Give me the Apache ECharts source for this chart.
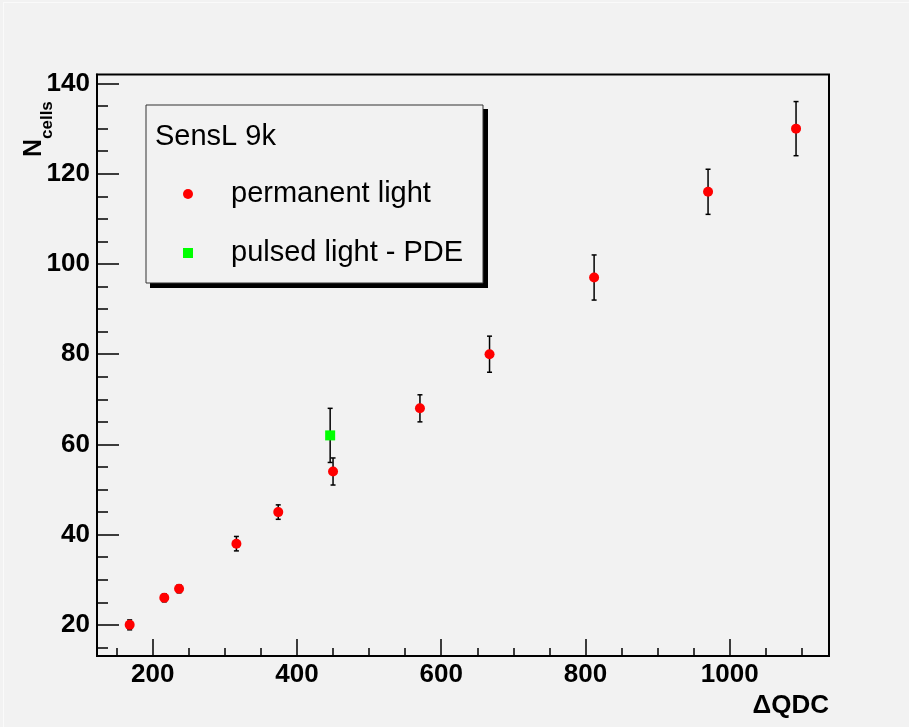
<!DOCTYPE html>
<html>
<head>
<meta charset="utf-8">
<script src="https://cdn.jsdelivr.net/npm/echarts@6/dist/echarts.min.js"></script>
<style>
html,body{margin:0;padding:0;background:#f2f2f2;}
#chart{width:909px;height:727px;}
</style>
</head>
<body>
<div id="chart"></div>
<script>
// ---- data ----
const permX   = [168, 216, 236.5, 316, 374, 450, 570.5, 667, 812, 970, 1092];
const permY   = [20, 26, 28, 38, 45, 54, 68, 80, 97, 116, 130];
const permErr = [1.1, 0.9, 0.9, 1.6, 1.6, 3, 3, 4, 5, 5, 6];

const pulsedX   = [446];
const pulsedY   = [62];
const pulsedErr = [6];

const xMajorTicks = [200, 400, 600, 800, 1000];
const xMinorTicks = [150, 250, 300, 350, 450, 500, 550, 650, 700, 750, 850, 900, 950, 1050, 1100];
const yMajorTicks = [20, 40, 60, 80, 100, 120, 140];
const yMinorTicks = [15, 25, 30, 35, 45, 50, 55, 65, 70, 75, 85, 90, 95, 105, 110, 115, 125, 130, 135];

const seriesNames = ['permanent light', 'pulsed light - PDE'];
const legendTitle = 'SensL 9k';
const xTitle = '\u0394QDC';

const X_MIN = 122.7, X_MAX = 1137.7;
const Y_MIN = 13.1, Y_MAX = 142;

const FONT = 'Liberation Sans, Arial, Helvetica, sans-serif';

const permPoints = permX.map((x, i) => [x, permY[i]]);
const pulsedPoints = pulsedX.map((x, i) => [x, pulsedY[i]]);
const permBars = permX.map((x, i) => [x, permY[i] - permErr[i], permY[i] + permErr[i]]);
const pulsedBars = pulsedX.map((x, i) => [x, pulsedY[i] - pulsedErr[i], pulsedY[i] + pulsedErr[i]]);

function errRender(params, api) {
  const x = api.value(0), lo = api.value(1), hi = api.value(2);
  const a = api.coord([x, lo]), b = api.coord([x, hi]);
  const st = { stroke: '#000', lineWidth: 1.5 };
  const cw = 2.5;
  return {
    type: 'group',
    children: [
      { type: 'line', shape: { x1: a[0], y1: a[1], x2: b[0], y2: b[1] }, style: st },
      { type: 'line', shape: { x1: a[0] - cw, y1: a[1], x2: a[0] + cw, y2: a[1] }, style: st },
      { type: 'line', shape: { x1: b[0] - cw, y1: b[1], x2: b[0] + cw, y2: b[1] }, style: st }
    ]
  };
}

const labelStyle = { fontFamily: FONT, fontWeight: 'bold', fontSize: 26, color: '#000' };

const chart = echarts.init(document.getElementById('chart'), null, { renderer: 'canvas' });
chart.setOption({
  backgroundColor: '#f2f2f2',
  animation: false,
  grid: { left: 97, top: 74.5, right: 80, bottom: 71, show: true, borderColor: '#000', borderWidth: 2, backgroundColor: 'transparent' },
  xAxis: [
    {
      type: 'value', min: X_MIN, max: X_MAX, position: 'bottom',
      axisLine: { show: true, onZero: false, lineStyle: { color: '#000', width: 2 } },
      axisTick: { show: true, inside: true, length: 17, customValues: xMajorTicks, lineStyle: { color: '#000', width: 1.5 } },
      axisLabel: Object.assign({ show: true, margin: 6, customValues: xMajorTicks, formatter: v => String(v) }, labelStyle),
      splitLine: { show: false }
    },
    {
      type: 'value', min: X_MIN, max: X_MAX, position: 'bottom',
      axisLine: { show: false, onZero: false },
      axisTick: { show: true, inside: true, length: 8, customValues: xMinorTicks, lineStyle: { color: '#000', width: 1.5 } },
      axisLabel: { show: false },
      splitLine: { show: false }
    }
  ],
  yAxis: [
    {
      type: 'value', min: Y_MIN, max: Y_MAX, position: 'left',
      axisLine: { show: true, onZero: false, lineStyle: { color: '#000', width: 2 } },
      axisTick: { show: true, inside: true, length: 22, customValues: yMajorTicks, lineStyle: { color: '#000', width: 1.5 } },
      axisLabel: Object.assign({ show: true, margin: 7, customValues: yMajorTicks, formatter: v => String(v) }, labelStyle),
      splitLine: { show: false }
    },
    {
      type: 'value', min: Y_MIN, max: Y_MAX, position: 'left',
      axisLine: { show: false, onZero: false },
      axisTick: { show: true, inside: true, length: 11, customValues: yMinorTicks, lineStyle: { color: '#000', width: 1.5 } },
      axisLabel: { show: false },
      splitLine: { show: false }
    }
  ],
  legend: {
    orient: 'vertical', left: 183, top: 179, padding: 0,
    itemWidth: 10, itemHeight: 10, itemGap: 29, selectedMode: false,
    data: [{ name: seriesNames[0], icon: 'circle' }, { name: seriesNames[1], icon: 'rect' }],
    textStyle: { fontFamily: FONT, fontSize: 29, color: '#000', padding: [0, 0, 0, 33], lineHeight: 30 }
  },
  graphic: [
    { type: 'line', z: 0, shape: { x1: 3, y1: 2.5, x2: 909, y2: 2.5 }, style: { stroke: '#fafafa', lineWidth: 1 } },
    { type: 'line', z: 0, shape: { x1: 3.5, y1: 2, x2: 3.5, y2: 727 }, style: { stroke: '#fafafa', lineWidth: 1 } },
    { type: 'rect', z: 1, shape: { x: 150, y: 109, width: 338, height: 179 }, style: { fill: '#000' } },
    { type: 'rect', z: 1, shape: { x: 146, y: 105, width: 337, height: 178 }, style: { fill: '#f2f2f2', stroke: '#333', lineWidth: 1 } },
    { type: 'text', z: 5, x: 155, y: 137, style: { text: legendTitle, fontFamily: FONT, fontSize: 29, fill: '#000', textAlign: 'left', textVerticalAlign: 'middle' } },
    { type: 'text', z: 5, x: 829, y: 706, style: { text: xTitle, fontFamily: FONT, fontWeight: 'bold', fontSize: 26, fill: '#000', textAlign: 'right', textVerticalAlign: 'middle' } },
    { type: 'text', z: 5, x: 34, y: 157, rotation: Math.PI / 2, style: { text: 'N', fontFamily: FONT, fontWeight: 'bold', fontSize: 25, fill: '#000', textAlign: 'left', textVerticalAlign: 'middle' } },
    { type: 'text', z: 5, x: 47.5, y: 139, rotation: Math.PI / 2, style: { text: 'cells', fontFamily: FONT, fontWeight: 'bold', fontSize: 17, fill: '#000', textAlign: 'left', textVerticalAlign: 'middle' } }
  ],
  series: [
    { type: 'custom', renderItem: errRender, data: permBars, encode: { x: 0, y: [1, 2] }, z: 2, silent: true },
    { type: 'custom', renderItem: errRender, data: pulsedBars, encode: { x: 0, y: [1, 2] }, z: 2, silent: true },
    { name: seriesNames[0], type: 'scatter', symbol: 'circle', symbolSize: 10, data: permPoints, itemStyle: { color: '#ff0000', opacity: 1 }, z: 3 },
    { name: seriesNames[1], type: 'scatter', symbol: 'rect', symbolSize: 10, data: pulsedPoints, itemStyle: { color: '#00ff00', opacity: 1 }, z: 3 }
  ]
});
</script>
</body>
</html>
